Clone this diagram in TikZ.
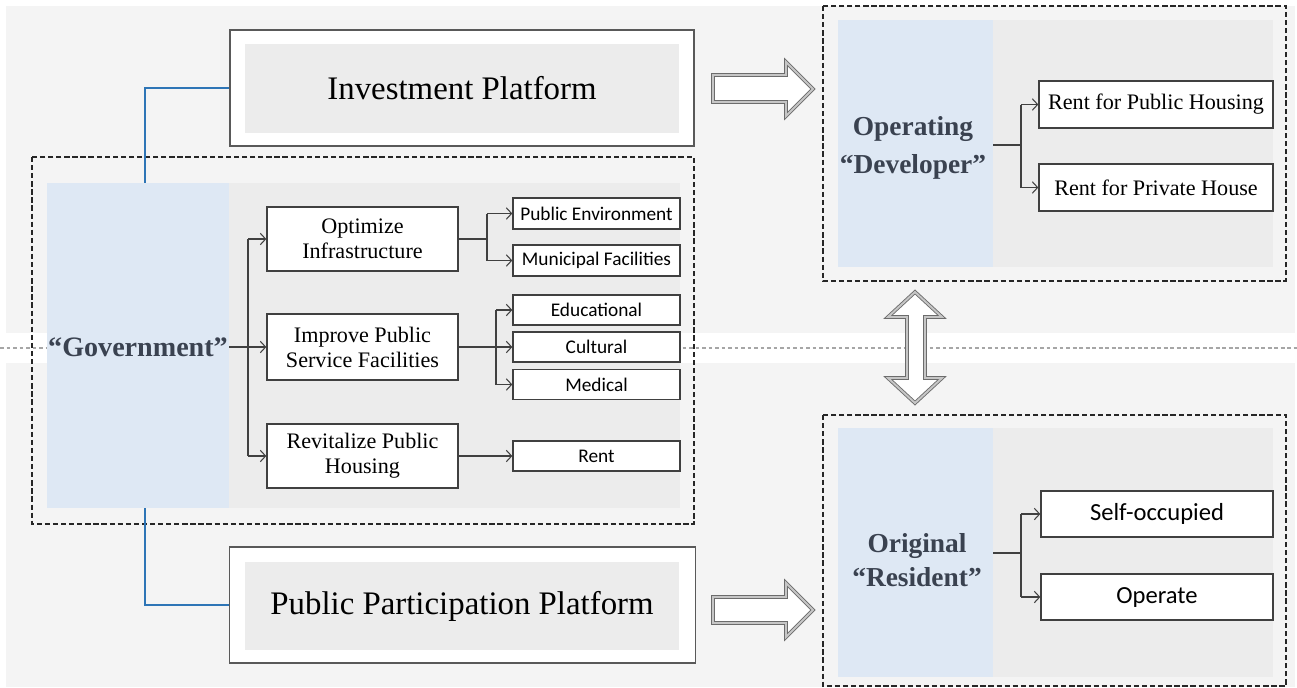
\documentclass[tikz,border=0pt]{standalone}
\usepackage{fontspec}
\setmainfont{Liberation Serif}
\newfontfamily\carl{Carlito}
\usetikzlibrary{arrows.meta}
\definecolor{bg}{HTML}{F4F4F4}
\definecolor{panelblue}{HTML}{DEE8F4}
\definecolor{panelgray}{HTML}{ECECEC}
\definecolor{linkblue}{HTML}{2E75B6}
\definecolor{ink}{HTML}{3A4250}
\definecolor{edge}{HTML}{404040}
\begin{document}
\begin{tikzpicture}[x=0.02cm,y=-0.02cm,
  wbox/.style={draw=edge, line width=0.8pt, fill=white, inner sep=0pt, align=center},
  midtext/.style={font=\fontsize{12.6}{14.2}\selectfont},
  smtext/.style={font=\carl\fontsize{11}{13}\selectfont},
  bigtext/.style={font=\fontsize{18.7}{22}\selectfont},
  boldlab/.style={font=\bfseries\fontsize{15.6}{20}\selectfont, text=ink, align=center},
  conn/.style={draw=edge, line width=0.6pt, -{Straight Barb[length=3pt,width=6.5pt]}},
  plain/.style={draw=edge, line width=0.6pt},
  dashbox/.style={draw=black!85, line width=0.8pt, dash pattern=on 3pt off 1.6pt},
  fatarrow/.style={fill=white, draw=gray!85!black, double=gray!45, double distance=1.1pt, line width=0.5pt, line join=miter},
  bluelink/.style={draw=linkblue, line width=1.4pt}
]
\useasboundingbox (0,0) rectangle (1297,687);
% background
\fill[white] (0,0) rectangle (1297,687);
\fill[bg] (6,6) rectangle (1295,333);
\fill[bg] (6,363) rectangle (1295,687);
\draw[gray!70, line width=0.7pt, dash pattern=on 2.2pt off 1.5pt] (0,348) -- (1297,348);

% ---------- Government block ----------
\fill[panelgray] (229,183) rectangle (680,508);
\node[fill=panelblue, minimum width=3.64cm, minimum height=6.5cm, inner sep=0pt] (govblue) at (138,345.5) {};
\node[boldlab, font=\bfseries\fontsize{16}{20}\selectfont] (govtxt) at (138,347) {“Government”};
\draw[dashbox] (32,157) rectangle (694,524);

\node[wbox, midtext, minimum width=3.82cm, minimum height=1.28cm] (opt) at (362.5,239) {Optimize\\Infrastructure};
\node[wbox, midtext, minimum width=3.82cm, minimum height=1.32cm] (imp) at (362.5,347) {Improve Public\\Service Facilities};
\node[wbox, midtext, minimum width=3.82cm, minimum height=1.28cm] (rev) at (362.5,456) {Revitalize Public\\Housing};

\node[wbox, smtext, minimum width=3.34cm, minimum height=0.62cm] (env) at (596.5,213.5) {Public Environment};
\node[wbox, smtext, minimum width=3.34cm, minimum height=0.62cm] (mun) at (596.5,260.5) {Municipal Facilities};
\node[wbox, smtext, minimum width=3.34cm, minimum height=0.6cm] (edu) at (596.5,310) {Educational};
\node[wbox, smtext, minimum width=3.34cm, minimum height=0.6cm] (cul) at (596.5,347) {Cultural};
\node[wbox, smtext, minimum width=3.34cm, minimum height=0.6cm] (med) at (596.5,384.5) {Medical};
\node[wbox, smtext, minimum width=3.34cm, minimum height=0.6cm] (rent) at (596.5,456) {Rent};

\coordinate (trunk) at (248,347);
\draw[plain] (govblue.east |- imp.west) -- (trunk);
\draw[plain] (trunk |- opt.west) -- (trunk |- rev.west);
\draw[conn] (trunk |- opt.west) -- (opt.west);
\draw[conn] (trunk) -- (imp.west);
\draw[conn] (trunk |- rev.west) -- (rev.west);

\coordinate (bo) at (487,239);
\draw[plain] (opt.east) -- (bo);
\draw[plain] (bo |- env.west) -- (bo |- mun.west);
\draw[conn] (bo |- env.west) -- (env.west);
\draw[conn] (bo |- mun.west) -- (mun.west);

\coordinate (bi) at (496,347);
\draw[conn] (imp.east) -- (cul.west);
\draw[plain] (bi |- edu.west) -- (bi |- med.west);
\draw[conn] (bi |- edu.west) -- (edu.west);
\draw[conn] (bi |- med.west) -- (med.west);

\draw[conn] (rev.east) -- (rent.west);

% ---------- Platforms ----------
\node[wbox, draw=gray!70!black, line width=0.9pt, minimum width=9.28cm, minimum height=2.32cm] (invo) at (462,88) {};
\node[fill=panelgray, bigtext, minimum width=8.68cm, minimum height=1.78cm, inner sep=0pt] (invi) at (462,88.5) {Investment Platform};
\node[wbox, draw=gray!70!black, line width=0.9pt, minimum width=9.32cm, minimum height=2.32cm] (pubo) at (462.5,605) {};
\node[fill=panelgray, bigtext, minimum width=8.68cm, minimum height=1.76cm, inner sep=0pt] (pubi) at (462,606) {Public Participation Platform};

\draw[bluelink] (invo.west) -| (145,0 |- govblue.north);
\draw[bluelink] (145,0 |- govblue.south) |- (pubo.west);

% ---------- Developer block ----------
\fill[panelgray] (993,20) rectangle (1273,267);
\node[fill=panelblue, minimum width=3.1cm, minimum height=4.94cm, inner sep=0pt] (devblue) at (915.5,143.5) {};
\node[boldlab, font=\bfseries\fontsize{15.6}{21.5}\selectfont] (devtxt) at (913,148) {Operating\\“Developer”};
\draw[dashbox] (823,6) rectangle (1286,281);
\node[wbox, midtext, minimum width=4.68cm, minimum height=0.94cm] (rph) at (1156,104.5) {Rent for Public Housing};
\node[wbox, midtext, minimum width=4.68cm, minimum height=0.94cm] (rpr) at (1156,187.5) {Rent for Private House};
\coordinate (bd) at (1021,145);
\draw[plain] (devblue.east |- bd) -- (bd);
\draw[plain] (bd |- rph.west) -- (bd |- rpr.west);
\draw[conn] (bd |- rph.west) -- (rph.west);
\draw[conn] (bd |- rpr.west) -- (rpr.west);

% ---------- Resident block ----------
\fill[panelgray] (993,428) rectangle (1273,677);
\node[fill=panelblue, minimum width=3.1cm, minimum height=4.98cm, inner sep=0pt] (resblue) at (915.5,552.5) {};
\node[boldlab, font=\bfseries\fontsize{15.6}{19.5}\selectfont] (restxt) at (917,560) {Original\\“Resident”};
\draw[dashbox] (823,415) rectangle (1286,686);
\node[wbox, font=\carl\fontsize{14}{16}\selectfont, minimum width=4.64cm, minimum height=0.92cm] (self) at (1157,514) {Self-occupied};
\node[wbox, font=\carl\fontsize{14}{16}\selectfont, minimum width=4.64cm, minimum height=0.92cm] (oper) at (1157,597) {Operate};
\coordinate (br) at (1021,553);
\draw[plain] (resblue.east |- br) -- (br);
\draw[plain] (br |- self.west) -- (br |- oper.west);
\draw[conn] (br |- self.west) -- (self.west);
\draw[conn] (br |- oper.west) -- (oper.west);

% ---------- Block arrows ----------
\draw[fatarrow] (713,75) -- (786,75) -- (786,62) -- (813,89) -- (786,116) -- (786,102) -- (713,102) -- cycle;
\draw[fatarrow] (713,597) -- (786,597) -- (786,583) -- (813,610) -- (786,637) -- (786,623) -- (713,623) -- cycle;
\draw[fatarrow] (915,292) -- (942,317) -- (925,317) -- (925,378) -- (942,378) -- (915,403) -- (888,378) -- (907,378) -- (907,317) -- (888,317) -- cycle;
\end{tikzpicture}
\end{document}
